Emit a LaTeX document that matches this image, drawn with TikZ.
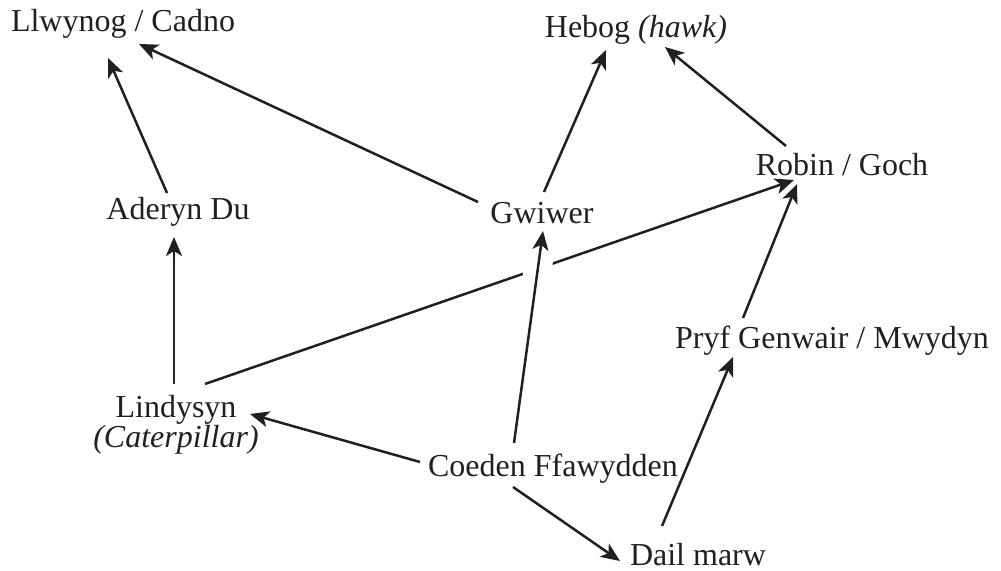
\documentclass[tikz,border=0pt]{standalone}
\usepackage{fontspec}
\setmainfont{Liberation Serif}
\usetikzlibrary{arrows.meta,calc}
\definecolor{ink}{HTML}{231F20}
\begin{document}
\begin{tikzpicture}[x=0.5pt,y=-0.5pt,
  lab/.style={inner sep=0pt, anchor=base, text=ink, align=center, font=\fontsize{16}{15.5}\selectfont},
  arr/.style={draw=ink, line width=1.25pt, -{Stealth[length=9.5pt,width=8pt,inset=2.5pt]}}]
\useasboundingbox (0,0) rectangle (1001,571);
\node[lab] (lly) at (123,32) {Llwynog / Cadno};
\node[lab] (heb) at (636,38) {Hebog \textit{(hawk)}};
\node[lab] (rob) at (842,176) {Robin / Goch};
\node[lab] (ade) at (178,220) {Aderyn Du};
\node[lab] (gwi) at (542,224) {Gwiwer};
\node[lab] (pry) at (832,349) {Pryf Genwair / Mwydyn};
\node[lab] (lin) at (176,448) {Lindysyn\\\textit{(Caterpillar)}};
\node[lab] (coe) at (553,476) {Coeden Ffawydden};
\node[lab] (dai) at (698,565) {Dail marw};
\draw[arr] ($(ade.base)+(-11,-27)$) -- ($(lly.base)+(-15,26)$);
\draw[arr] ($(gwi.base)+(-64,-22)$) -- ($(lly.base)+(16,12)$);
\draw[arr] ($(gwi.base)+(2,-32)$) -- ($(heb.base)+(-30,12)$);
\draw[arr] ($(rob.base)+(-56,-30)$) -- ($(heb.base)+(29,9)$);
\draw[arr] ($(lin.base)+(29,-64)$) -- ($(rob.base)+(-48,4)$);
\draw[arr] ($(lin.base)+(-2,-64)$) -- ($(ade.base)+(-4,17)$);
\draw[arr] ($(coe.base)+(-133,-14)$) -- ($(lin.base)+(74,-34)$);
\draw[arr, preaction={draw=white, line width=14pt, -, shorten <=72pt, shorten >=12pt}] ($(coe.base)+(-39,-33)$) -- ($(gwi.base)+(1,7)$);
\draw[arr] ($(coe.base)+(-40,11)$) -- ($(dai.base)+(-78,-4)$);
\draw[arr] ($(dai.base)+(-36,-39)$) -- ($(pry.base)+(-99,8)$);
\draw[arr] ($(pry.base)+(-89,-31)$) -- ($(rob.base)+(-45,8)$);
\end{tikzpicture}
\end{document}
